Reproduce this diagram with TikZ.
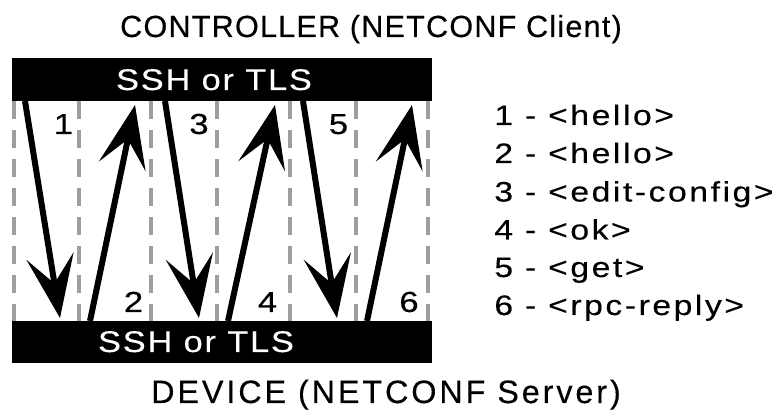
\documentclass[tikz,border=0pt]{standalone}
\usepackage{fontspec}
\setmainfont{Liberation Sans}
\newfontfamily\titlefont[LetterSpace=4,FakeBold=0.3]{Liberation Sans}
\newfontfamily\devfont[LetterSpace=9,FakeBold=0.3]{Liberation Sans}
\newfontfamily\barfont[FakeStretch=1.15,LetterSpace=6,FakeBold=0.3]{Liberation Sans}
\newfontfamily\numfont[FakeStretch=1.2,FakeBold=0.3]{Liberation Sans}
\newfontfamily\legendfont[FakeStretch=1.2,LetterSpace=9,FakeBold=0.3]{Liberation Sans}
\usepackage{tikz}
\usetikzlibrary{arrows.meta}
\usetikzlibrary{calc}

\begin{document}
\begin{tikzpicture}[auto,
        title_style/.style={anchor=base,inner sep=0pt,font=\titlefont\fontsize{17.4}{20}\selectfont},
        dev_style/.style={anchor=base,inner sep=0pt,font=\devfont\fontsize{18.4}{20}\selectfont},
        bar_style/.style={rectangle,fill=black,draw=none,minimum width=8.4cm,inner sep=0pt},
        bar_text_style/.style={anchor=base,inner sep=0pt,text=white,font=\barfont\fontsize{17}{20}\selectfont},
        num_style/.style={anchor=base,inner sep=0pt,font=\numfont\fontsize{16.5}{20}\selectfont},
        legend_style/.style={anchor=base west,inner sep=0pt,font=\legendfont\fontsize{16}{20}\selectfont},
        lane_style/.style={draw=black!38,line width=0.08cm,dash pattern=on 0.36cm off 0.22cm},
        msg_style/.style={draw=black,line width=0.12cm,-{Stealth[length=1.25cm,width=0.95cm,inset=0.55cm]}}]

        \useasboundingbox (0,0) rectangle (15.62,8.2);

        \node [title_style](ctrl) at (7.42,7.46) {CONTROLLER (NETCONF Client)};

        \node [dev_style](dev) at (7.72,0.14) {DEVICE (NETCONF Server)};

        \node [bar_style,minimum height=0.86cm](topBar) at (4.44,6.61) {};

        \node [bar_style,minimum height=0.84cm](botBar) at (4.44,1.36) {};

        \node [bar_text_style](topTxt) at (4.28,6.40) {SSH or TLS};

        \node [bar_text_style](botTxt) at (3.92,1.16) {SSH or TLS};

        \draw [lane_style] (0.28,6.18) -- (0.28,1.78);
        \draw [lane_style] (1.58,6.18) -- (1.58,1.78);
        \draw [lane_style] (3.02,6.18) -- (3.02,1.78);
        \draw [lane_style] (4.34,6.18) -- (4.34,1.78);
        \draw [lane_style] (5.80,6.18) -- (5.80,1.78);
        \draw [lane_style] (7.12,6.18) -- (7.12,1.78);
        \draw [lane_style] (8.56,6.18) -- (8.56,1.78);

        \coordinate (s1) at (0.50,6.18);
        \coordinate (e1) at (1.20,1.84);
        \coordinate (s2) at (1.80,1.78);
        \coordinate (e2) at (2.70,6.10);
        \coordinate (s3) at (3.30,6.18);
        \coordinate (e3) at (3.98,1.84);
        \coordinate (s4) at (4.56,1.78);
        \coordinate (e4) at (5.50,6.10);
        \coordinate (s5) at (6.06,6.18);
        \coordinate (e5) at (6.74,1.84);
        \coordinate (s6) at (7.34,1.78);
        \coordinate (e6) at (8.24,6.10);

        \draw [msg_style] (s1) -- (e1);

        \draw [msg_style] (s2) -- (e2);

        \draw [msg_style] (s3) -- (e3);

        \draw [msg_style] (s4) -- (e4);

        \draw [msg_style] (s5) -- (e5);

        \draw [msg_style] (s6) -- (e6);

        \node [num_style](m1) at (1.27,5.52) {1};
        \node [num_style](m2) at (2.67,1.96) {2};
        \node [num_style](m3) at (3.98,5.52) {3};
        \node [num_style](m4) at (5.35,1.96) {4};
        \node [num_style](m5) at (6.77,5.52) {5};
        \node [num_style](m6) at (8.18,1.96) {6};

        \node [legend_style](l1) at (9.88,5.70) {1 - <hello>};

        \node [legend_style](l2) at (9.88,4.94) {2 - <hello>};

        \node [legend_style](l3) at (9.88,4.17) {3 - <edit-config>};

        \node [legend_style](l4) at (9.88,3.41) {4 - <ok>};

        \node [legend_style](l5) at (9.88,2.66) {5 - <get>};

        \node [legend_style](l6) at (9.88,1.90) {6 - <rpc-reply>};

        \end{tikzpicture}
\end{document}
